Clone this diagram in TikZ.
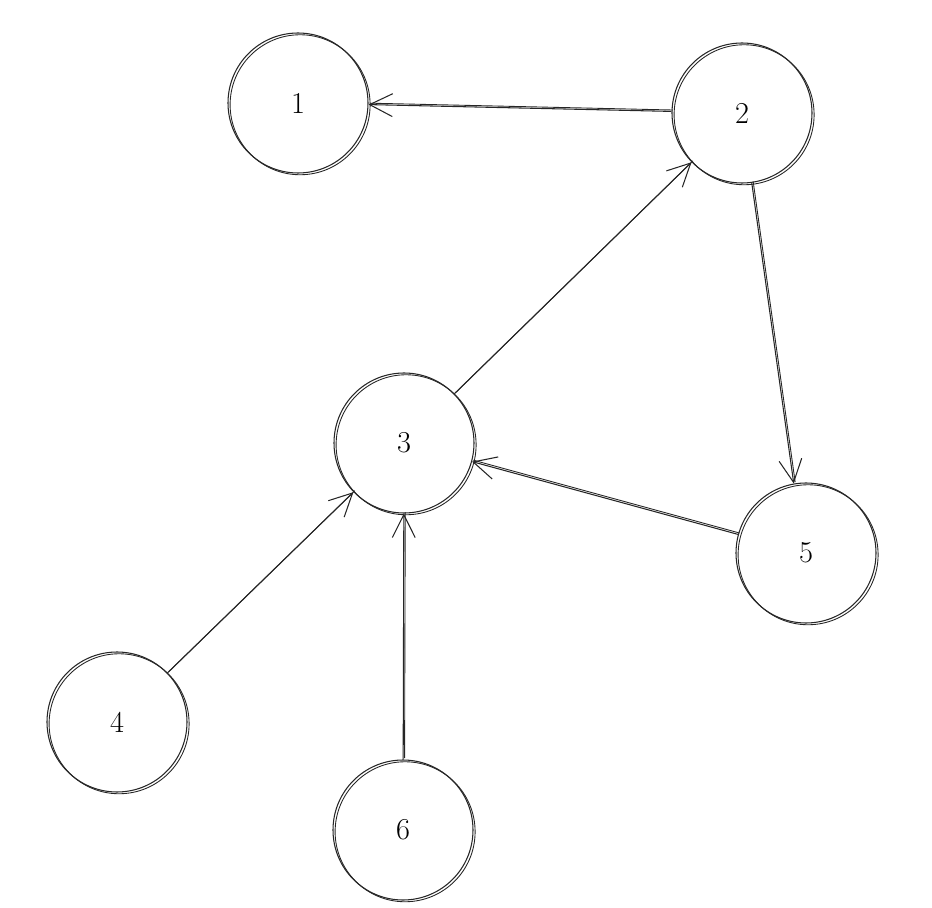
\documentclass[tikz,border=0pt]{standalone}
\usetikzlibrary{arrows.meta}
\begin{document}
\begin{tikzpicture}

\tikzstyle{vertex} = [circle,draw=black!85,minimum size=2.8cm,inner sep=0pt,font=\LARGE,line width=0.6pt,
  preaction={draw=black!85,line width=0.5pt,transform canvas={xshift=1.2pt,yshift=-1pt}}];%
\tikzstyle{link} = [-{Straight Barb[length=13pt,width=13pt]},line width=0.6pt,draw=black!85,
  preaction={draw=black!85,-,line width=0.5pt,transform canvas={xshift=0.8pt,yshift=0.8pt}}];

\useasboundingbox (0,0) rectangle (18.64,-18.16);

\node[vertex] at (5.96,-2.06) (1) {1};
\node[vertex] at (14.84,-2.26) (2) {2};
\node[vertex] at (8.08,-8.86) (3) {3};
\node[vertex] at (2.34,-14.44) (4) {4};
\node[vertex] at (16.12,-11.06) (5) {5};
\node[vertex] at (8.06,-16.6) (6) {6};

\path (2) edge[link] (1);
\path (3) edge[link] (2);
\path (2) edge[link] (5.100);
\path (5) edge[link] (3);
\path (4) edge[link] (3);
\path (6) edge[link] (3);

\end{tikzpicture}
\end{document}
